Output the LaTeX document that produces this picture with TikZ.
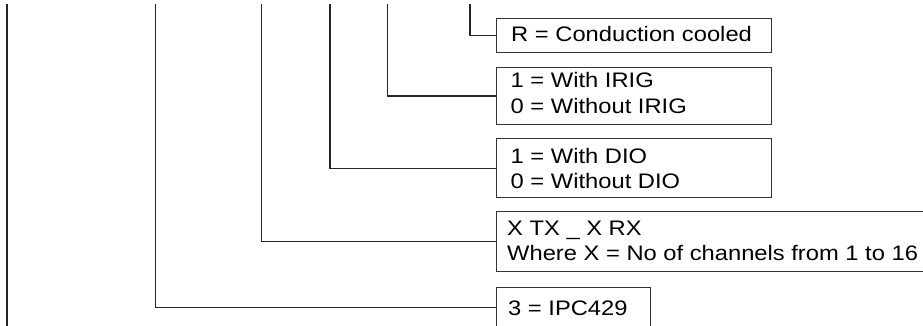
\documentclass[tikz,border=0pt]{standalone}
\usepackage{fontspec}
\setmainfont{Liberation Sans}[FakeStretch=1.13]
\begin{document}
\begin{tikzpicture}[x=1pt,y=-1pt,
  wire/.style={draw=black!85, line width=1.05pt},
  box/.style={draw=black!80, line width=1.05pt, rectangle, inner sep=0pt, anchor=north west},
  lbl/.style={anchor=base west, inner sep=0pt, font=\fontsize{21}{25}\selectfont, text=black}]
\useasboundingbox (0,0) rectangle (923,326);
\fill[white] (0,0) rectangle (923,326);
\clip (0,0) rectangle (923,326);
% boxes
\node[box, minimum width=275pt, minimum height=34pt]   (rbox)  at (496,18.3)  {};
\node[box, minimum width=275pt, minimum height=57pt]   (irig)  at (496,67)    {};
\node[box, minimum width=275pt, minimum height=58.4pt] (dio)   at (496,138.3) {};
\node[box, minimum width=454pt, minimum height=60.2pt] (txrx)  at (496,210.5) {};
\node[box, minimum width=154pt, minimum height=39.7pt] (ipc)   at (496,287.3) {};
% labels
\node[lbl] (l1)  at (511,41.7)   {R = Conduction cooled};
\node[lbl] (l2)  at (510.5,88)   {1 = With IRIG};
\node[lbl] (l3)  at (510.5,113.3){0 = Without IRIG};
\node[lbl] (l4)  at (510.5,163.3){1 = With DIO};
\node[lbl] (l5)  at (510.5,188.3){0 = Without DIO};
\node[lbl] (l6)  at (507,235)    {X TX \_ X RX};
\node[lbl] (l7)  at (507,260)    {Where X = No of channels from 1 to 16};
\node[lbl] (l8)  at (508,315)    {3 = IPC429};
% line tops
\coordinate (t0) at (7,4.5);
\coordinate (b0) at (7,330);
\coordinate (t1) at (155.3,4.5);
\coordinate (t2) at (261.7,4.5);
\coordinate (t3) at (330,4.5);
\coordinate (t4) at (387.7,4.5);
\coordinate (t5) at (470,4.5);
% connectors
\draw[wire] (t0) -- (b0);
\draw[wire] (t1) |- (ipc.west);
\draw[wire] (t2) |- (txrx.west);
\draw[wire] (t3) |- (dio.west);
\draw[wire] (t4) |- (irig.west);
\draw[wire] (t5) |- (rbox.west);
\end{tikzpicture}
\end{document}
